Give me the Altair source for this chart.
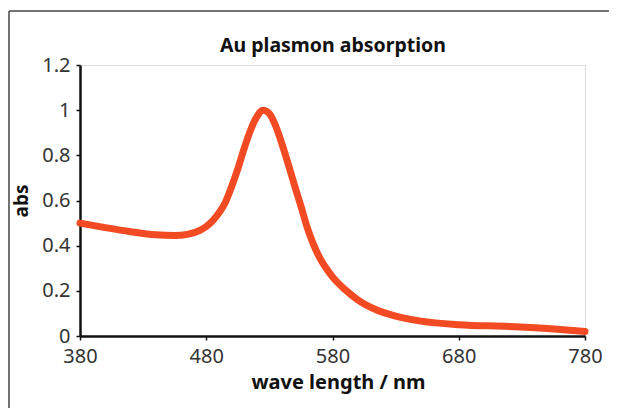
import altair as alt
import pandas as pd

# data
wavelength = [380, 400, 420, 440, 455, 465, 475, 480, 485, 490, 495, 500, 505, 510, 515, 520, 525,
              530, 535, 540, 545, 550, 555, 560, 565, 570, 575, 580, 590, 600, 615, 630, 650, 680, 720, 750, 780]
absorbance = [0.50, 0.48, 0.462, 0.448, 0.445, 0.45, 0.468, 0.485, 0.51, 0.545, 0.59, 0.66, 0.74, 0.83, 0.91, 0.97, 1.0,
              0.985, 0.93, 0.85, 0.76, 0.665, 0.575, 0.48, 0.405, 0.345, 0.30, 0.262, 0.205, 0.16, 0.115, 0.088, 0.066,
              0.05, 0.042, 0.033, 0.02]
x_ticks = [380, 480, 580, 680, 780]
y_ticks = [0, 0.2, 0.4, 0.6, 0.8, 1, 1.2]
title_text = "Au plasmon absorption"

df = pd.DataFrame({"wl": wavelength, "abs": absorbance})

W, H = 505, 271
PL, PT = 72, 57
PR = 601 - PL - W
PB = 400 - PT - H

FONT = "Noto Sans"

line = alt.Chart(df).mark_line(
    color="#F24A22", strokeWidth=7, strokeCap="round", strokeJoin="round", interpolate="monotone"
).encode(
    x=alt.X("wl:Q", scale=alt.Scale(domain=[380, 780], nice=False, zero=False),
            axis=alt.Axis(values=x_ticks, title="wave length / nm", grid=False, labelFlush=False,
                          domainColor="#111", domainWidth=2.5, tickColor="#111", tickWidth=1.5,
                          tickSize=4, labelFontSize=20, labelColor="#333", labelFont=FONT,
                          labelPadding=6, titleFont=FONT, titleFontSize=20, titleFontWeight="bold",
                          titleColor="#111", titlePadding=6, titleX=258)),
    y=alt.Y("abs:Q", scale=alt.Scale(domain=[0, 1.2], nice=False),
            axis=alt.Axis(values=y_ticks, format="~g", title="abs", grid=False, labelFlush=False,
                          domainColor="#111", domainWidth=2.5, tickColor="#111", tickWidth=1.5,
                          tickSize=4, labelFontSize=20, labelColor="#333", labelFont=FONT,
                          labelPadding=6, titleFont=FONT, titleFontSize=19, titleFontWeight="bold",
                          titleColor="#111", titlePadding=10)),
)

one = pd.DataFrame({"a": [0]})
frame_left = alt.Chart(one).mark_rule(color="#444", strokeWidth=1.5).encode(
    x=alt.value(-PL + 1), y=alt.value(-PT + 3), y2=alt.value(H + PB))
frame_top = alt.Chart(one).mark_rule(color="#444", strokeWidth=1.5).encode(
    x=alt.value(-PL + 1), x2=alt.value(W + PR), y=alt.value(-PT + 3))
title = alt.Chart(one).mark_text(
    font=FONT, fontSize=19.5, fontWeight="bold", color="#111", align="center", baseline="alphabetic"
).encode(x=alt.value(W / 2 + 0.5), y=alt.value(-13), text=alt.value(title_text))

chart = alt.layer(frame_left, frame_top, title, line).properties(
    width=W, height=H,
    autosize=alt.AutoSizeParams(type="none"),
    padding={"left": PL, "top": PT, "right": PR, "bottom": PB},
).configure_view(stroke="#555", strokeWidth=1.5).configure(background="white")

chart.save("out.html", embed_options={"renderer": "svg", "actions": False})
